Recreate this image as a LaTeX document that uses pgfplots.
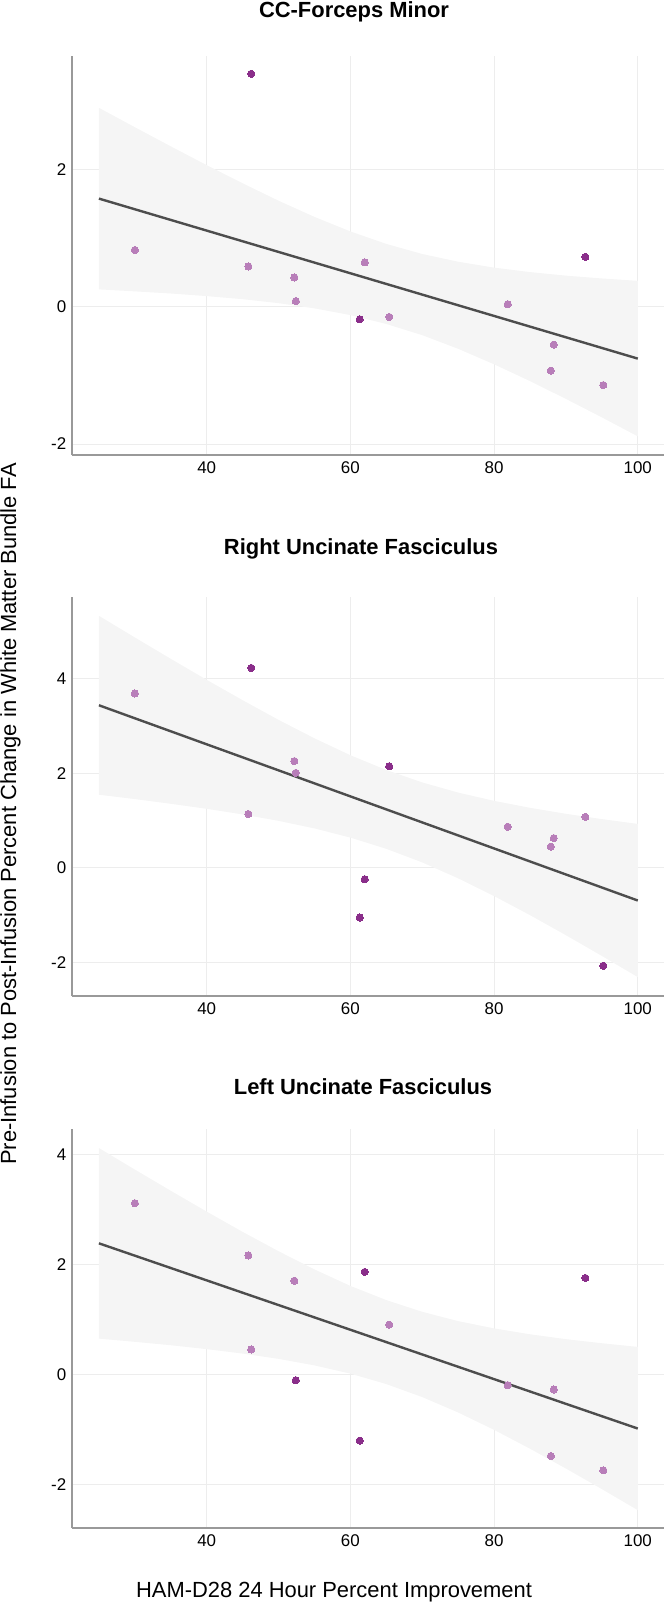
\documentclass[border=0pt]{standalone}
\usepackage{fontspec}
\setmainfont{Liberation Sans}
\usepackage{pgfplots}
\pgfplotsset{compat=1.18}
\definecolor{lightpt}{HTML}{B87EB9}
\definecolor{darkpt}{HTML}{8A2E8A}
\definecolor{bandc}{HTML}{F5F5F5}
\definecolor{linec}{HTML}{4D4D4D}
\definecolor{axisc}{HTML}{999999}
\definecolor{gridc}{HTML}{EDEDED}
\pgfplotsset{
 panel/.style={
  width=592bp, height=399bp, scale only axis,
  xmin=21.25, xmax=103.65,
  xtick={40,60,80,100},
  axis x line*=bottom, axis y line*=left,
  axis line style={draw=axisc, line width=1.8bp, -},
  major tick length=0pt,
  grid=major, major grid style={draw=gridc, line width=0.9bp},
  tick label style={font=\fontsize{17}{20}\selectfont, inner sep=0pt},
  /pgf/number format/assume math mode=true,
  xticklabel style={yshift=-6.5bp},
  yticklabel style={xshift=-5.5bp},
  anchor=south west,
 },
 lpt/.style={color=lightpt, only marks, mark=*, mark size=3.6bp, mark options={draw=lightpt, fill=lightpt, line width=0pt}},
 dpt/.style={color=darkpt, only marks, mark=*, mark size=3.6bp, mark options={draw=darkpt, fill=darkpt, line width=0pt}},
 band/.style={draw=none, fill=bandc, forget plot, no marks},
 fitline/.style={draw=linec, line width=2.4bp, no marks},
}
\begin{document}
\begin{tikzpicture}
\useasboundingbox (0,0) rectangle (670bp,-1602bp);
% ---------- Panel 1 ----------
\begin{axis}[panel, at={(72bp,-455bp)}, ymin=-2.16, ymax=3.66, ytick={-2,0,2}]
\addplot[band] coordinates {
(25,2.904) (30,2.621) (35,2.342) (40,2.068) (45,1.803) (50,1.549) (55,1.313) (60,1.101)
(65,0.919) (70,0.772) (75,0.659) (80,0.573) (85,0.508) (90,0.456) (95,0.415) (100,0.380)
(100,-1.888) (95,-1.611) (90,-1.342) (85,-1.082) (80,-0.837) (75,-0.611) (70,-0.412) (65,-0.249)
(60,-0.119) (55,-0.021) (50,0.055) (45,0.113) (40,0.158) (35,0.196) (30,0.227) (25,0.256)};
\addplot[lpt] coordinates {(30.0,0.83) (45.8,0.59) (52.2,0.43) (52.4,0.085) (62.0,0.65) (65.4,-0.146) (81.9,0.04) (88.3,-0.55) (87.9,-0.93) (95.2,-1.14)};
\addplot[dpt] coordinates {(46.2,3.40) (61.3,-0.18) (92.7,0.73)};
\addplot[fitline] coordinates {(25,1.580) (100,-0.754)};
\end{axis}
% ---------- Panel 2 ----------
\begin{axis}[panel, at={(72bp,-996bp)}, ymin=-2.71, ymax=5.73, ytick={-2,0,2,4}]
\addplot[band] coordinates {
(25,5.332) (30,4.874) (35,4.422) (40,3.978) (45,3.547) (50,3.131) (55,2.741) (60,2.383)
(65,2.071) (70,1.808) (75,1.593) (80,1.418) (85,1.271) (90,1.144) (95,1.032) (100,0.930)
(100,-2.310) (95,-1.862) (90,-1.424) (85,-0.999) (80,-0.596) (75,-0.221) (70,0.116) (65,0.403)
(60,0.641) (55,0.835) (50,0.995) (45,1.131) (40,1.250) (35,1.356) (30,1.456) (25,1.548)};
\addplot[lpt] coordinates {(30.0,3.69) (45.8,1.14) (52.2,2.26) (52.4,2.01) (81.9,0.87) (88.3,0.63) (87.9,0.45) (92.7,1.08)};
\addplot[dpt] coordinates {(46.2,4.23) (65.4,2.15) (62.0,-0.24) (61.3,-1.05) (95.2,-2.07)};
\addplot[fitline] coordinates {(25,3.440) (100,-0.690)};
\end{axis}
% ---------- Panel 3 ----------
\begin{axis}[panel, at={(72bp,-1528bp)}, ymin=-2.79, ymax=4.47, ytick={-2,0,2,4}]
\addplot[band] coordinates {
(25,4.124) (30,3.732) (35,3.346) (40,2.967) (45,2.598) (50,2.246) (55,1.915) (60,1.615)
(65,1.357) (70,1.144) (75,0.974) (80,0.842) (85,0.735) (90,0.646) (95,0.572) (100,0.505)
(100,-2.465) (95,-2.082) (90,-1.708) (85,-1.347) (80,-1.004) (75,-0.688) (70,-0.408) (65,-0.171)
(60,0.019) (55,0.169) (50,0.288) (45,0.384) (40,0.465) (35,0.536) (30,0.598) (25,0.656)};
\addplot[lpt] coordinates {(30.0,3.12) (45.8,2.17) (46.2,0.46) (52.2,1.71) (65.4,0.91) (81.9,-0.19) (88.3,-0.27) (87.9,-1.48) (95.2,-1.74)};
\addplot[dpt] coordinates {(52.4,-0.10) (62.0,1.87) (61.3,-1.20) (92.7,1.76)};
\addplot[fitline] coordinates {(25,2.390) (100,-0.980)};
\end{axis}
% ---------- Titles and labels ----------
\node[font=\bfseries\fontsize{22}{26}\selectfont, anchor=base, inner sep=0pt] at (354bp,-17bp) {CC-Forceps Minor};
\node[font=\bfseries\fontsize{22}{26}\selectfont, anchor=base, inner sep=0pt] at (361bp,-554bp) {Right Uncinate Fasciculus};
\node[font=\bfseries\fontsize{22}{26}\selectfont, anchor=base, inner sep=0pt] at (363bp,-1094bp) {Left Uncinate Fasciculus};
\node[font=\fontsize{22}{26}\selectfont, anchor=base, inner sep=0pt] at (334bp,-1597bp) {HAM-D28 24 Hour Percent Improvement};
\node[font=\fontsize{22}{26}\selectfont, anchor=base, inner sep=0pt, rotate=90] at (16bp,-814bp) {Pre-Infusion to Post-Infusion Percent Change in White Matter Bundle FA};
\end{tikzpicture}
\end{document}
